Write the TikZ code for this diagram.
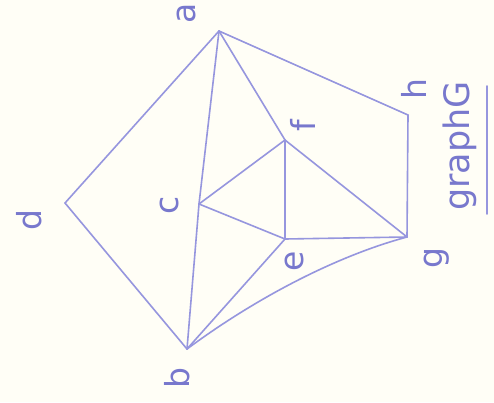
\documentclass[tikz,border=0pt]{standalone}
\usepackage{fontspec}
\setmainfont{DejaVu Sans}
\definecolor{pen}{RGB}{150,150,222}
\definecolor{ink}{RGB}{120,120,205}
\definecolor{paper}{RGB}{255,254,246}
\begin{document}
\begin{tikzpicture}[x=1pt,y=-1pt,
  edge/.style={draw=pen,line width=1.6pt,line cap=round},
  lbl/.style={text=ink,rotate=90,inner sep=0pt,font=\fontsize{33}{33}\selectfont}]
\fill[paper] (0,0) rectangle (494,402);
\useasboundingbox (0,0) rectangle (494,402);
% vertices
\coordinate (a) at (219,31);
\coordinate (d) at (65,203);
\coordinate (b) at (187,349);
\coordinate (c) at (199,204);
\coordinate (f) at (285,140);
\coordinate (e) at (285,239);
\coordinate (g) at (407,237);
\coordinate (h) at (408,115);
% edges
\draw[edge] (a) -- (d);
\draw[edge] (d) -- (b);
\draw[edge] (a) -- (c);
\draw[edge] (c) -- (b);
\draw[edge] (a) -- (f);
\draw[edge] (a) -- (h);
\draw[edge] (h) -- (g);
\draw[edge] (c) -- (f);
\draw[edge] (c) -- (e);
\draw[edge] (f) -- (e);
\draw[edge] (f) -- (g);
\draw[edge] (e) -- (g);
\draw[edge] (b) -- (e);
\draw[edge] (b) .. controls (260,295) and (340,255) .. (g);
% labels
\node[lbl] (la) at (186,13) {a};
\node[lbl] (ld) at (29,220) {d};
\node[lbl] (lb) at (177,378) {b};
\node[lbl] (lc) at (169,205) {c};
\node[lbl] (le) at (294,261) {e};
\node[lbl] (lf) at (303,126) {f};
\node[lbl] (lg) at (437,258) {g};
\node[lbl] (lh) at (414,89) {h};
\node[lbl,font=\fontsize{35}{35}\selectfont] (title) at (460,146) {graphG};
\coordinate (u1) at (487,86);
\coordinate (u2) at (487,214);
\draw[edge] (u1) -- (u2);
\end{tikzpicture}
\end{document}
